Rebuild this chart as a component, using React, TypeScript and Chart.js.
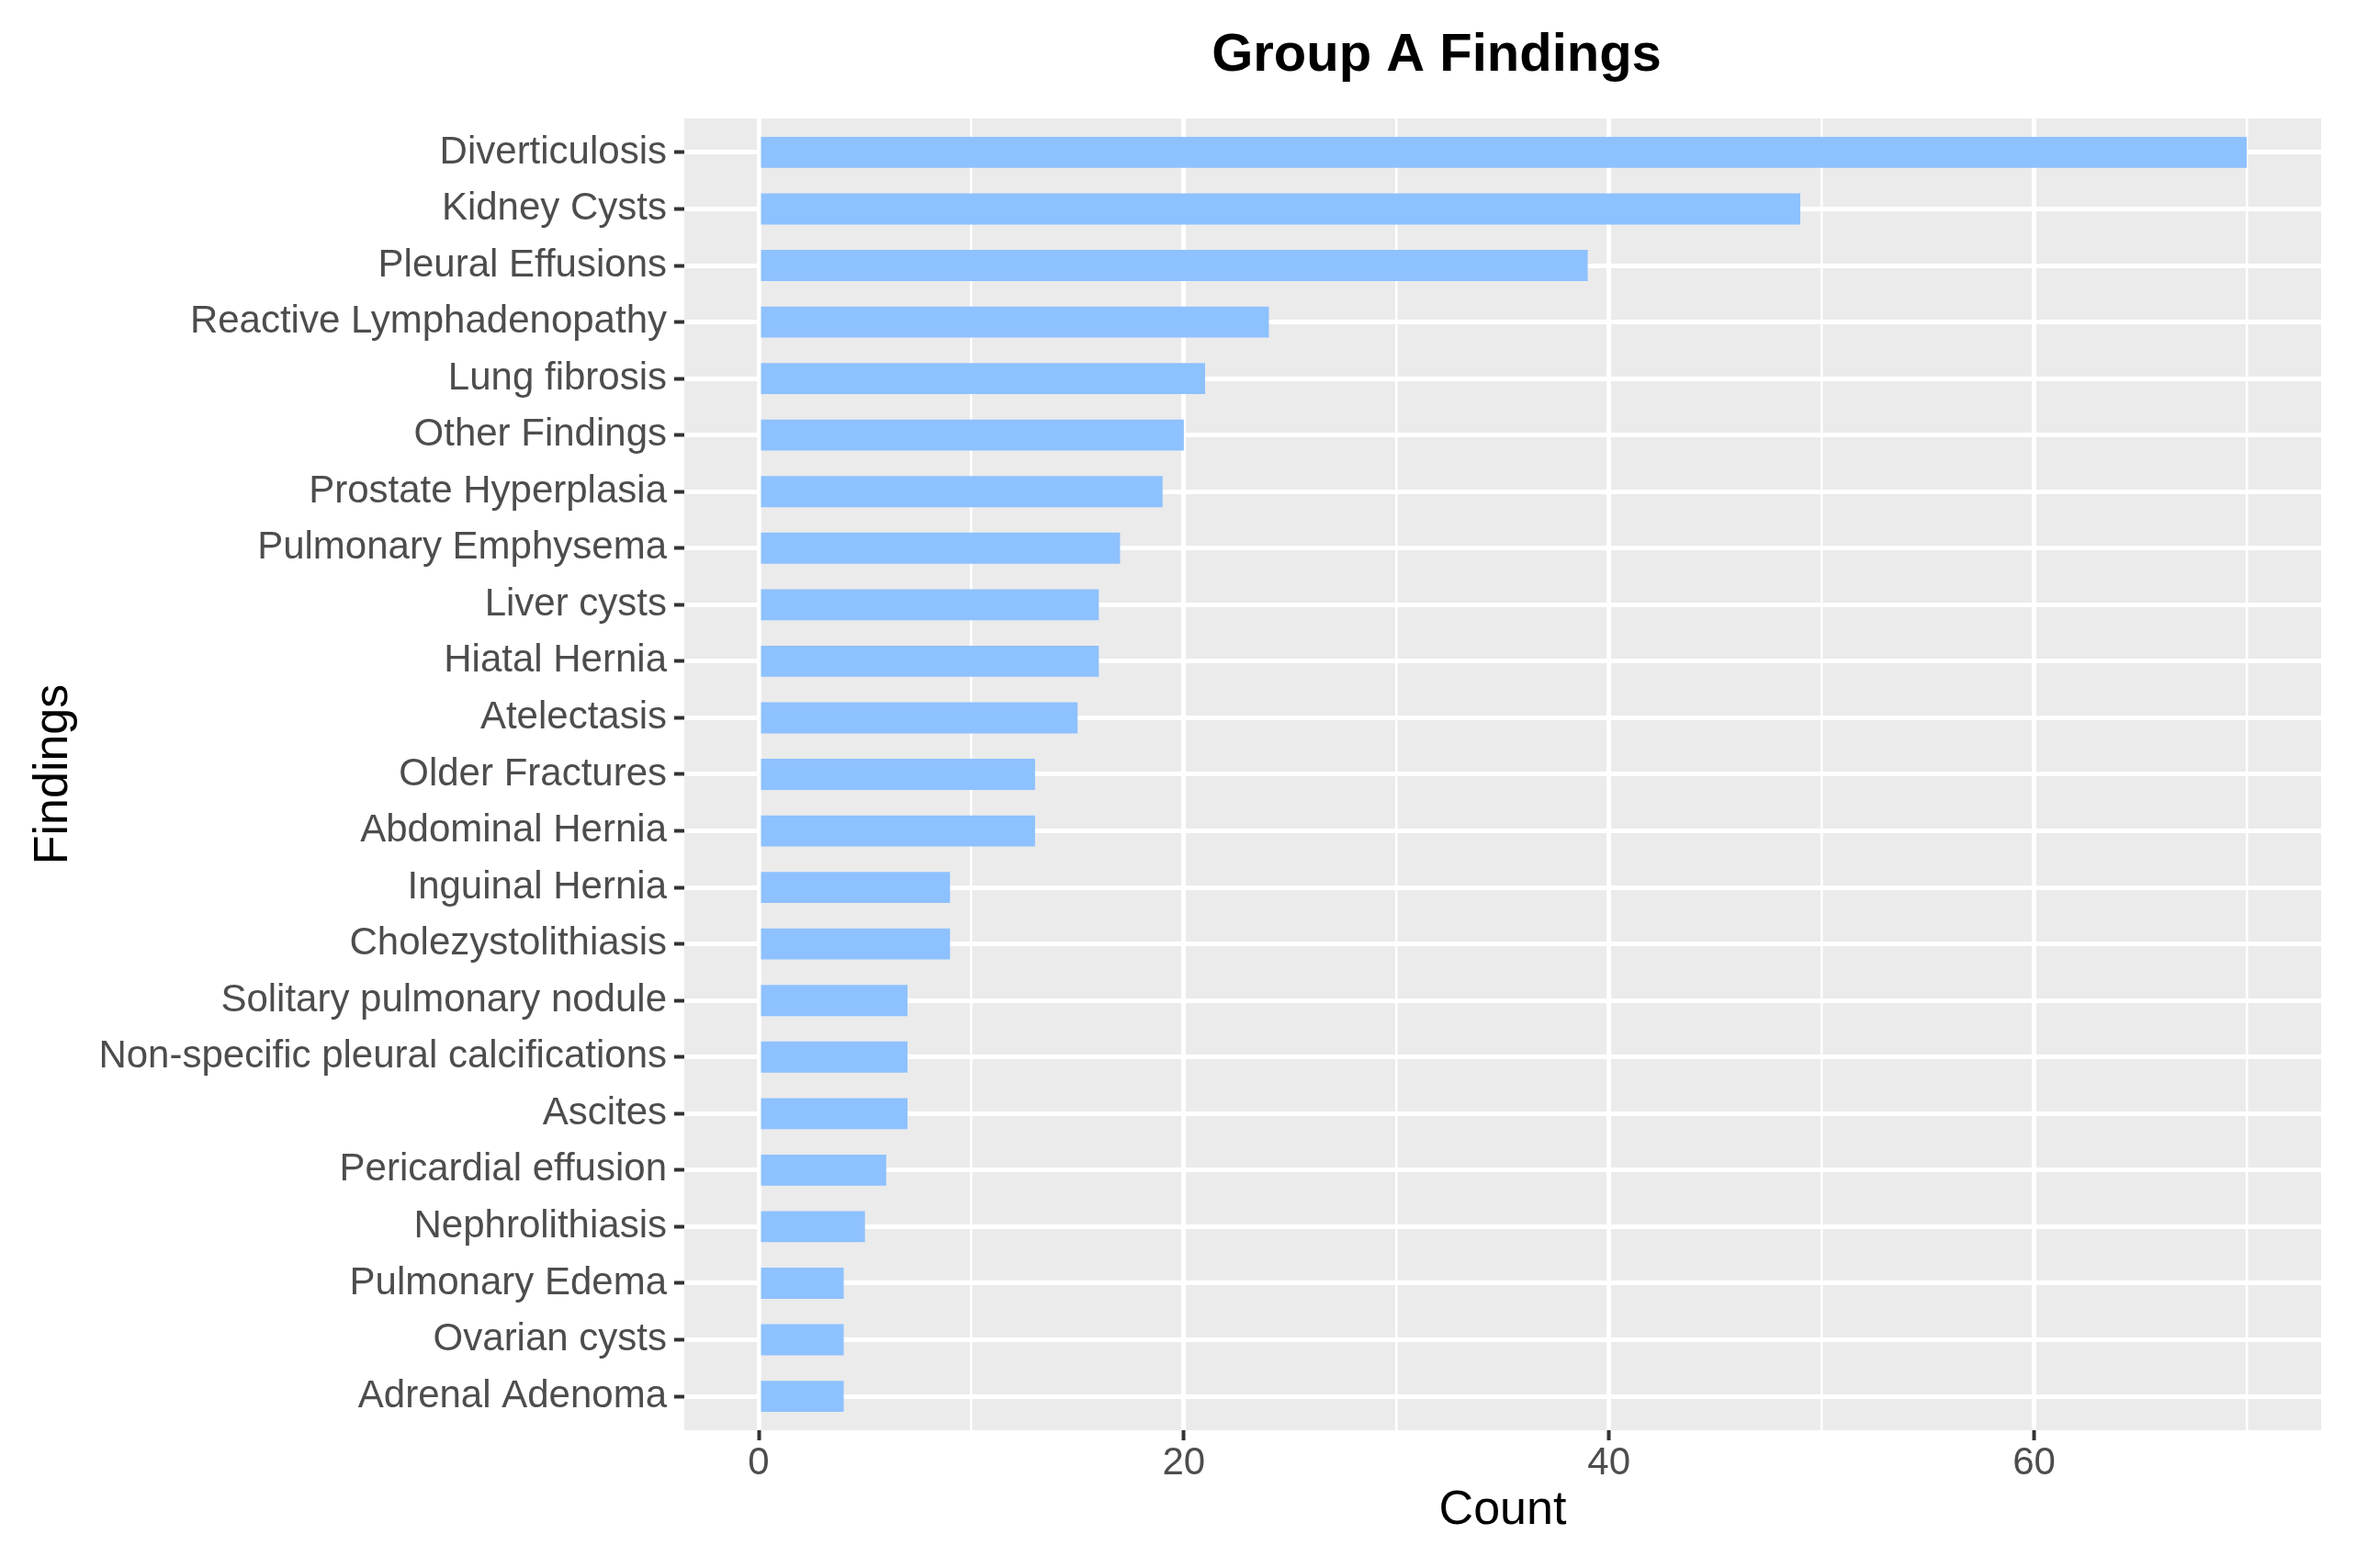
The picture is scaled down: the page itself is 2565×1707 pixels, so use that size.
import React, { useEffect, useRef } from "react";
import { Chart, registerables } from "chart.js";

Chart.register(...registerables);

const categories = [
  "Diverticulosis",
  "Kidney Cysts",
  "Pleural Effusions",
  "Reactive Lymphadenopathy",
  "Lung fibrosis",
  "Other Findings",
  "Prostate Hyperplasia",
  "Pulmonary Emphysema",
  "Liver cysts",
  "Hiatal Hernia",
  "Atelectasis",
  "Older Fractures",
  "Abdominal Hernia",
  "Inguinal Hernia",
  "Cholezystolithiasis",
  "Solitary pulmonary nodule",
  "Non-specific pleural calcifications",
  "Ascites",
  "Pericardial effusion",
  "Nephrolithiasis",
  "Pulmonary Edema",
  "Ovarian cysts",
  "Adrenal Adenoma",
];

const counts = [70, 49, 39, 24, 21, 20, 19, 17, 16, 16, 15, 13, 13, 9, 9, 7, 7, 7, 6, 5, 4, 4, 4];

const xTickValues = [0, 10, 20, 30, 40, 50, 60, 70];
const xMajorStep = 20;

const chartTitle = "Group A Findings";
const xTitle = "Count";
const yTitle = "Findings";

const FONT = "'Liberation Sans', Arial, Helvetica, sans-serif";

export default function App() {
  const canvasRef = useRef<HTMLCanvasElement | null>(null);

  useEffect(() => {
    const canvas = canvasRef.current;
    if (!canvas) return;

    const panelBg = {
      id: "panelBg",
      beforeDraw(chart: any) {
        const { ctx, chartArea } = chart;
        ctx.save();
        ctx.fillStyle = "#EBEBEB";
        ctx.fillRect(chartArea.left, chartArea.top, chartArea.right - chartArea.left, chartArea.bottom - chartArea.top);
        ctx.restore();
      },
    };

    const titlePlugin = {
      id: "customTitle",
      afterDraw(chart: any) {
        const { ctx } = chart;
        ctx.save();
        ctx.font = `bold 58px ${FONT}`;
        ctx.fillStyle = "#000000";
        ctx.textAlign = "center";
        ctx.textBaseline = "middle";
        ctx.fillText(chartTitle, 1564, 61);
        ctx.restore();
      },
    };

    const isMajor = (v: number) => v % xMajorStep === 0;

    const chart = new Chart(canvas, {
      type: "bar",
      data: {
        datasets: [
          {
            data: counts.map((v, i) => ({ x: v, y: i })),
            backgroundColor: "#8EC1FF",
            borderWidth: 0,
            categoryPercentage: 1,
            barPercentage: 0.55,
          } as any,
        ],
      },
      plugins: [panelBg, titlePlugin],
      options: {
        animation: false,
        responsive: true,
        maintainAspectRatio: false,
        indexAxis: "y",
        layout: { padding: { left: 0, right: 38, top: 129, bottom: 0 } },
        plugins: {
          legend: { display: false },
          tooltip: { enabled: false },
          title: { display: false },
        },
        scales: {
          x: {
            type: "linear",
            offset: false,
            min: -3.5,
            max: 73.5,
            afterBuildTicks: (axis: any) => {
              axis.ticks = xTickValues.map((v) => ({ value: v }));
            },
            afterFit: (scale: any) => {
              scale.height = 150;
            },
            border: { display: false },
            grid: {
              offset: false,
              color: "#FFFFFF",
              lineWidth: (ctx: any) => (ctx.tick && isMajor(ctx.tick.value) ? 5 : 2.5),
              drawTicks: true,
              tickLength: 11,
              tickWidth: 4,
              tickColor: (ctx: any) => (ctx.tick && isMajor(ctx.tick.value) ? "#333333" : "rgba(0,0,0,0)"),
            },
            ticks: {
              autoSkip: false,
              maxRotation: 0,
              padding: 0,
              color: "#4D4D4D",
              font: { family: FONT, size: 42 },
              callback: (value: any) => (isMajor(Number(value)) ? String(value) : ""),
            },
            title: {
              display: true,
              text: xTitle,
              color: "#000000",
              font: { family: FONT, size: 52 },
              padding: { top: 0, bottom: 31 },
            },
          },
          y: {
            type: "linear",
            offset: false,
            reverse: true,
            min: -0.6,
            max: categories.length - 1 + 0.6,
            afterBuildTicks: (axis: any) => {
              axis.ticks = categories.map((_, i) => ({ value: i }));
            },
            afterFit: (scale: any) => {
              scale.width = 745;
            },
            border: { display: false },
            grid: {
              offset: false,
              color: "#FFFFFF",
              lineWidth: 5,
              drawTicks: true,
              tickLength: 11,
              tickWidth: 4,
              tickColor: "#333333",
            },
            ticks: {
              autoSkip: false,
              padding: 8,
              color: "#4D4D4D",
              font: { family: FONT, size: 42 },
              callback: (value: any) => categories[Number(value)] ?? "",
            },
            title: {
              display: true,
              text: yTitle,
              color: "#000000",
              font: { family: FONT, size: 52 },
              padding: { top: 27, bottom: 0 },
            },
          },
        },
      } as any,
    });

    return () => {
      chart.destroy();
    };
  }, []);

  return (
    <div
      style={{
        position: "fixed",
        left: 0,
        top: 0,
        width: 2565,
        height: 1707,
        background: "#FFFFFF",
      }}
    >
      <canvas ref={canvasRef} />
    </div>
  );
}
